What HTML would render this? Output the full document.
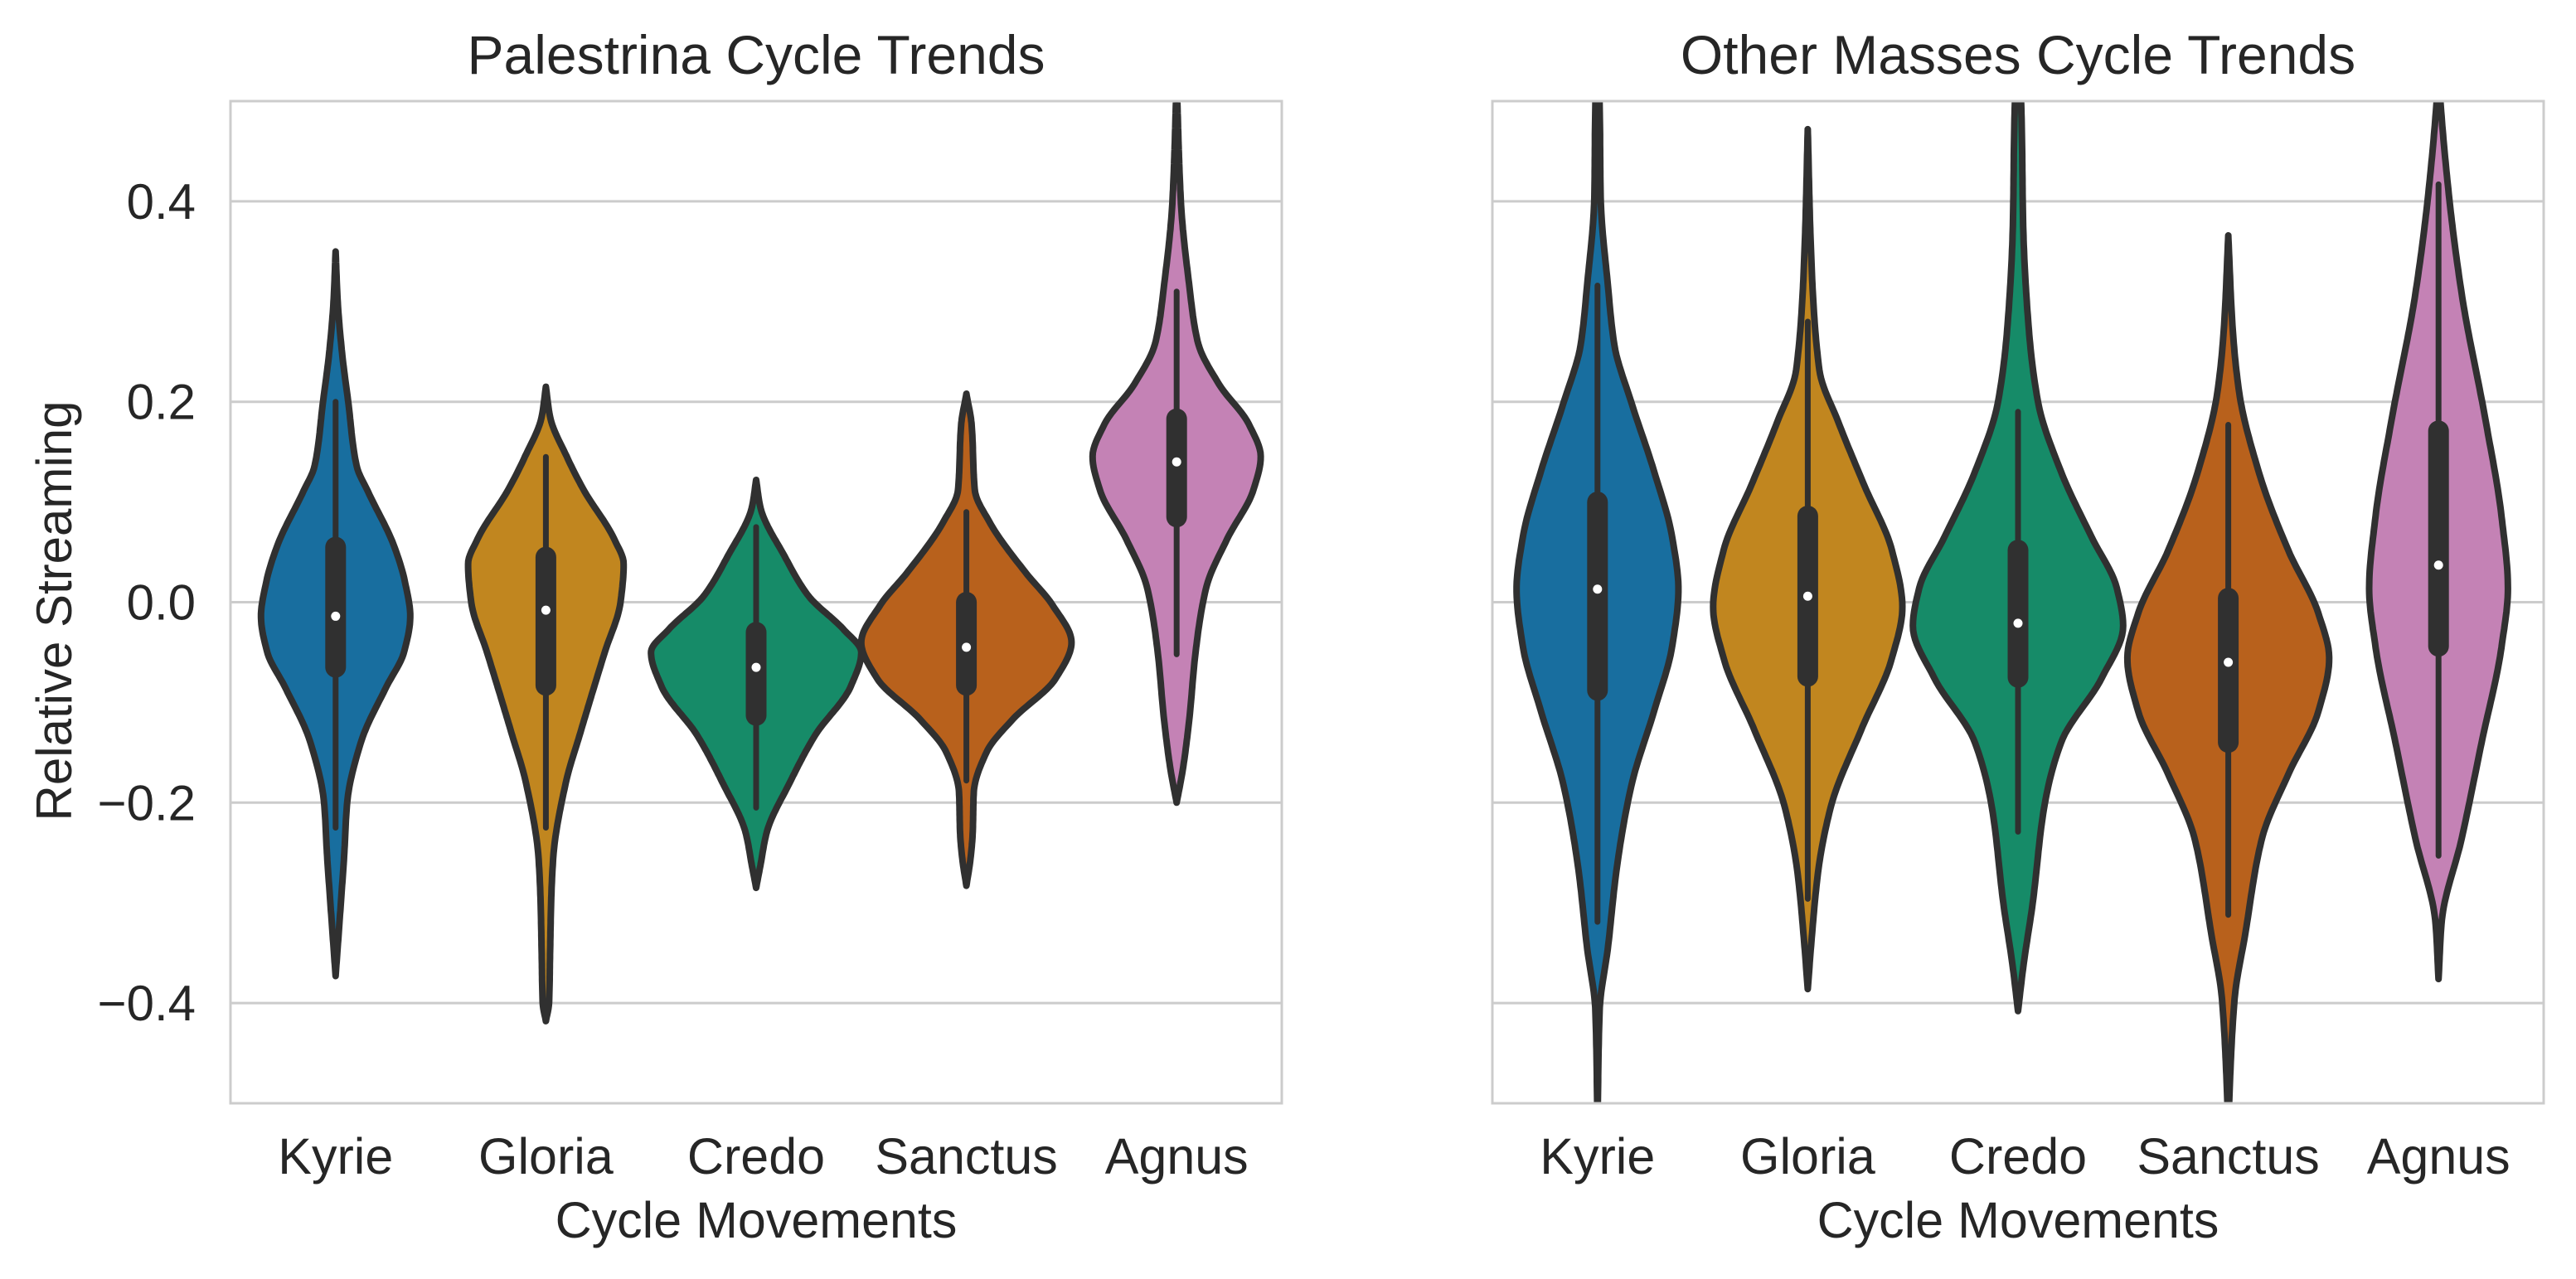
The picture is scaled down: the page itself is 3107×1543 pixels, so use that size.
<!DOCTYPE html>
<html><head><meta charset="utf-8"><style>
html,body{margin:0;padding:0;background:#fff;}
svg{display:block;font-family:"Liberation Sans",Arial,sans-serif;}
</style></head><body>
<svg id="chart" width="3107" height="1543" viewBox="0 0 3107 1543" xmlns="http://www.w3.org/2000/svg">
<rect width="3107" height="1543" fill="#fff"/>
<g id="root"></g>
</svg>
<script>
const categories = ["Kyrie","Gloria","Credo","Sanctus","Agnus"];
const panelTitles = ["Palestrina Cycle Trends","Other Masses Cycle Trends"];
const yTicks = [-0.4,-0.2,0.0,0.2,0.4];
const yTickLabels = ["\u22120.4","\u22120.2","0.0","0.2","0.4"];
const colors = ["#186e9f","#c1861f","#168b68","#b8611c","#c482b5"];
// density profiles: [value, relative half-width]
const palKyrie = [[0.35,0],[0.30,0.02],[0.25,0.06],[0.2,0.12],[0.136,0.2],[0.11,0.31],[0.055,0.56],[0.02,0.66],[-0.014,0.71],[-0.05,0.65],[-0.085,0.48],[-0.14,0.24],[-0.2,0.11],[-0.255,0.08],[-0.3,0.05],[-0.373,0]];
const palGloria = [[0.215,0],[0.185,0.04],[0.145,0.2],[0.112,0.36],[0.063,0.65],[0.038,0.74],[0,0.71],[-0.05,0.56],[-0.133,0.32],[-0.18,0.19],[-0.255,0.07],[-0.3,0.05],[-0.35,0.04],[-0.4,0.03],[-0.418,0]];
const palCredo = [[0.122,0],[0.095,0.04],[0.046,0.27],[0.006,0.5],[-0.027,0.83],[-0.05,1.0],[-0.084,0.9],[-0.133,0.56],[-0.18,0.32],[-0.23,0.1],[-0.263,0.04],[-0.285,0]];
const palSanctus = [[0.208,0],[0.177,0.05],[0.112,0.08],[0.08,0.22],[0.03,0.56],[-0.003,0.82],[-0.04,1.0],[-0.076,0.85],[-0.117,0.44],[-0.15,0.19],[-0.19,0.07],[-0.23,0.06],[-0.255,0.04],[-0.283,0]];
const palAgnus = [[0.52,0],[0.4,0.04],[0.316,0.12],[0.26,0.2],[0.218,0.4],[0.177,0.69],[0.145,0.8],[0.112,0.73],[0.063,0.48],[0.014,0.28],[-0.05,0.18],[-0.117,0.12],[-0.166,0.06],[-0.2,0]];
const othKyrie = [[0.53,0],[0.497,0.02],[0.405,0.03],[0.315,0.1],[0.257,0.16],[0.2,0.32],[0.13,0.54],[0.065,0.71],[0.013,0.77],[-0.044,0.71],[-0.108,0.54],[-0.184,0.32],[-0.268,0.18],[-0.344,0.1],[-0.408,0.02],[-0.52,0]];
const othGloria = [[0.472,0],[0.353,0.03],[0.232,0.11],[0.18,0.29],[0.116,0.54],[0.052,0.8],[-0.005,0.9],[-0.056,0.8],[-0.127,0.51],[-0.204,0.22],[-0.268,0.1],[-0.332,0.04],[-0.386,0]];
const othCredo = [[0.53,0],[0.497,0.03],[0.372,0.05],[0.276,0.1],[0.2,0.19],[0.13,0.41],[0.065,0.7],[0.014,0.94],[-0.024,1.0],[-0.075,0.8],[-0.14,0.41],[-0.204,0.25],[-0.3,0.14],[-0.364,0.05],[-0.408,0]];
const othSanctus = [[0.366,0],[0.276,0.04],[0.212,0.1],[0.13,0.29],[0.052,0.57],[-0.012,0.86],[-0.056,0.96],[-0.108,0.86],[-0.172,0.57],[-0.236,0.32],[-0.332,0.16],[-0.396,0.06],[-0.495,0.01],[-0.53,0]];
const othAgnus = [[0.53,0],[0.497,0.02],[0.405,0.1],[0.308,0.22],[0.18,0.45],[0.085,0.6],[0.014,0.66],[-0.044,0.6],[-0.14,0.41],[-0.236,0.22],[-0.319,0.03],[-0.376,0]];
// box stats: [whiskerLow, q1, median, q3, whiskerHigh]
const palStats = [[-0.225,-0.065,-0.014,0.055,0.2],[-0.225,-0.083,-0.008,0.045,0.145],[-0.205,-0.113,-0.065,-0.03,0.075],[-0.178,-0.083,-0.045,0.0,0.09],[-0.052,0.085,0.14,0.183,0.31]];
const othStats = [[-0.319,-0.088,0.013,0.1,0.316],[-0.296,-0.074,0.006,0.086,0.28],[-0.229,-0.075,-0.021,0.052,0.19],[-0.312,-0.14,-0.06,0.004,0.177],[-0.253,-0.044,0.037,0.171,0.417]];
const panelDensities = [[palKyrie,palGloria,palCredo,palSanctus,palAgnus],[othKyrie,othGloria,othCredo,othSanctus,othAgnus]];
const panelStats = [palStats, othStats];

const NS="http://www.w3.org/2000/svg";
const root=document.getElementById('root');
const panels=[{x0:278,x1:1546},{x0:1800,x1:3068}];
const yTop=122,yBot=1331,yMin=-0.5,yMax=0.5;
function yScale(v){return yTop+(yMax-v)/(yMax-yMin)*(yBot-yTop);}
function mk(tag,attrs,parent){const e=document.createElementNS(NS,tag);for(const k in attrs)e.setAttribute(k,attrs[k]);(parent||root).appendChild(e);return e;}
// monotone cubic interpolation of width as a function of value
function interp(dens){
  const pts=dens.slice().sort((a,b)=>a[0]-b[0]);
  const n=pts.length,xs=pts.map(p=>p[0]),ys=pts.map(p=>p[1]);
  const dx=[],sl=[];for(let i=0;i<n-1;i++){dx.push(xs[i+1]-xs[i]);sl.push((ys[i+1]-ys[i])/dx[i]);}
  const m=new Array(n);m[0]=sl[0];m[n-1]=sl[n-2];
  for(let i=1;i<n-1;i++){if(sl[i-1]*sl[i]<=0)m[i]=0;else{const w1=2*dx[i]+dx[i-1],w2=dx[i]+2*dx[i-1];m[i]=(w1+w2)/(w1/sl[i-1]+w2/sl[i]);}}
  return v=>{let i=0;while(i<n-2&&v>xs[i+1])i++;const h=dx[i],t=(v-xs[i])/h;const t2=t*t,t3=t2*t;
    return Math.max(0,(2*t3-3*t2+1)*ys[i]+(t3-2*t2+t)*h*m[i]+(-2*t3+3*t2)*ys[i+1]+(t3-t2)*h*m[i+1]);};
}

panels.forEach((p,pi)=>{
  const cw=(p.x1-p.x0)/categories.length;
  const xScale=i=>p.x0+cw*(i+0.5);
  const g=mk('g',{});
  
  
  const cid='clip'+pi;
  const cp=mk('clipPath',{id:cid},g);mk('rect',{x:p.x0,y:yTop,width:p.x1-p.x0,height:yBot-yTop},cp);
  yTicks.forEach((t,ti)=>{
    const gl=mk('line',{x1:p.x0,x2:p.x1,y1:yScale(t),y2:yScale(t),stroke:'#cccccc','stroke-width':3},g);
    
    
    if(pi===0){
      const tl=mk('text',{x:236,y:yScale(t)+21,'text-anchor':'end','font-size':60,fill:'#262626'},g);
      tl.textContent=yTickLabels[ti];
      
      
    }
  });
  const vg=mk('g',{'clip-path':'url(#'+cid+')'},g);
  categories.forEach((c,ci)=>{
    const cx=xScale(ci),dens=panelDensities[pi][ci],st=panelStats[pi][ci];
    const hwMax=cw*0.5;
    const f=interp(dens);
    const vals=dens.map(d=>d[0]);const vmax=Math.max(...vals),vmin=Math.min(...vals);
    const N=200,right=[],left=[];
    for(let k=0;k<=N;k++){const v=vmax-(vmax-vmin)*k/N;const w=f(v)*hwMax;right.push([cx+w,yScale(v)]);left.unshift([cx-w,yScale(v)]);}
    const all=right.concat(left);
    const d="M"+all.map(q=>q[0].toFixed(1)+","+q[1].toFixed(1)).join(" L")+" Z";
    const v=mk('path',{d:d,fill:colors[ci],stroke:'#303030','stroke-width':8,'stroke-linejoin':'round'},vg);
    
    
    const w=mk('line',{x1:cx,x2:cx,y1:yScale(st[0]),y2:yScale(st[4]),stroke:'#303030','stroke-width':7,'stroke-linecap':'round'},vg);
    
    
    const b=mk('line',{x1:cx,x2:cx,y1:yScale(st[1]),y2:yScale(st[3]),stroke:'#303030','stroke-width':25,'stroke-linecap':'round'},vg);
    
    
    const m=mk('circle',{cx:cx,cy:yScale(st[2]),r:5.5,fill:'#fff'},vg);
    
    
    const xl=mk('text',{x:cx,y:1416,'text-anchor':'middle','font-size':61,fill:'#262626'},g);
    xl.textContent=c;
    
    
  });
  const fr=mk('rect',{x:p.x0,y:yTop,width:p.x1-p.x0,height:yBot-yTop,fill:'none',stroke:'#cccccc','stroke-width':3},g);
  
  
  const tt=mk('text',{x:(p.x0+p.x1)/2,y:89,'text-anchor':'middle','font-size':66,fill:'#262626'},g);
  tt.textContent=panelTitles[pi];
  
  
  const xt=mk('text',{x:(p.x0+p.x1)/2,y:1493,'text-anchor':'middle','font-size':61,fill:'#262626'},g);
  xt.textContent='Cycle Movements';
  
  
});
const yt=mk('text',{x:0,y:0,'text-anchor':'middle','font-size':60,fill:'#262626',transform:'translate(86,737) rotate(-90)'});
yt.textContent='Relative Streaming';


</script>
</body></html>
